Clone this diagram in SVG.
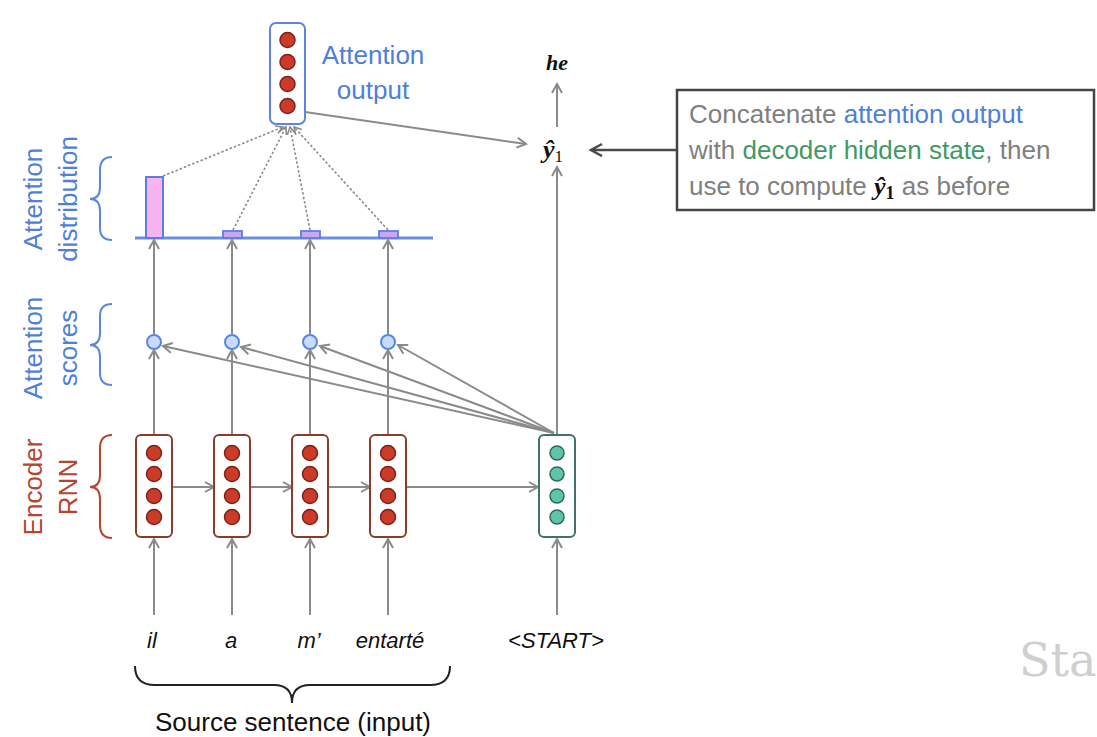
<svg xmlns="http://www.w3.org/2000/svg" width="1097" height="737" viewBox="0 0 1097 737">
<style>
.lbl{font-family:"Liberation Sans","Open Sans",sans-serif;font-size:26px;text-anchor:middle}
.blue{fill:#4f7fd8}
.red{fill:#b5452f}
.conn{stroke:#8a8a8a;stroke-width:2;fill:none}
.dot{stroke:#8a8a8a;stroke-width:1.6;fill:none;stroke-dasharray:2.5 2}
.enc{fill:#fff;stroke:#8c3b2b;stroke-width:2}
.encc{fill:#cc3b2a;stroke:#7a2416;stroke-width:1.5}
.dec{fill:#fff;stroke:#3f7369;stroke-width:2}
.decc{fill:#5fc4a8;stroke:#2d6b5d;stroke-width:1.5}
.sc{fill:#c7dcfb;stroke:#5b86e0;stroke-width:2}
.word{font-family:"Liberation Sans",sans-serif;font-style:italic;font-size:22px;text-anchor:middle;fill:#111}
.brace{fill:none;stroke-width:2}
.box{font-family:"Liberation Sans","Open Sans",sans-serif;font-size:26px;fill:#7f7f7f}
</style>
<defs>
<marker id="ah" markerUnits="userSpaceOnUse" markerWidth="14" markerHeight="14" refX="10" refY="6" orient="auto">
<path d="M1,1 L10,6 L1,11" fill="none" stroke="#8a8a8a" stroke-width="2"/>
</marker>
<marker id="ahs" markerUnits="userSpaceOnUse" markerWidth="12" markerHeight="12" refX="8" refY="5" orient="auto">
<path d="M1,1 L8,5 L1,9" fill="none" stroke="#8a8a8a" stroke-width="1.6"/>
</marker>
<marker id="ahd" markerUnits="userSpaceOnUse" markerWidth="16" markerHeight="16" refX="12" refY="7" orient="auto">
<path d="M1,1 L12,7 L1,13" fill="none" stroke="#4a4a4a" stroke-width="2.5"/>
</marker>
</defs>
<rect width="1097" height="737" fill="#fff"/>

<g id="side-labels">
<text class="lbl blue" transform="translate(42,199) rotate(-90)">Attention</text>
<text class="lbl blue" transform="translate(77,199) rotate(-90)">distribution</text>
<path class="brace" stroke="#5b86e0" d="M112,157 Q100,157 100,170 L100,187 Q100,199 90,199 Q100,199 100,211 L100,228 Q100,240 112,240"/>
<text class="lbl blue" transform="translate(42,348) rotate(-90)">Attention</text>
<text class="lbl blue" transform="translate(77,348) rotate(-90)">scores</text>
<path class="brace" stroke="#5b86e0" d="M112,304 Q100,304 100,316 L100,333 Q100,345 90,345 Q100,345 100,357 L100,373 Q100,385 112,385"/>
<text class="lbl red" transform="translate(42,487) rotate(-90)">Encoder</text>
<text class="lbl red" transform="translate(77,487) rotate(-90)">RNN</text>
<path class="brace" stroke="#b5452f" d="M112,435 Q100,435 100,448 L100,475 Q100,487 90,487 Q100,487 100,499 L100,525 Q100,538 112,538"/>
</g>

<g id="connectors">
<line class="conn" x1="154" y1="615" x2="154" y2="539" marker-end="url(#ah)"/>
<line class="conn" x1="232" y1="615" x2="232" y2="539" marker-end="url(#ah)"/>
<line class="conn" x1="310" y1="615" x2="310" y2="539" marker-end="url(#ah)"/>
<line class="conn" x1="388" y1="615" x2="388" y2="539" marker-end="url(#ah)"/>
<line class="conn" x1="557" y1="615" x2="557" y2="539" marker-end="url(#ah)"/>
<line class="conn" x1="172" y1="487" x2="214" y2="487" marker-end="url(#ah)"/>
<line class="conn" x1="251" y1="487" x2="292" y2="487" marker-end="url(#ah)"/>
<line class="conn" x1="328" y1="487" x2="370" y2="487" marker-end="url(#ah)"/>
<line class="conn" x1="406" y1="487" x2="538" y2="487" marker-end="url(#ah)"/>
<line class="conn" x1="154" y1="435" x2="154" y2="350" marker-end="url(#ah)"/>
<line class="conn" x1="232" y1="435" x2="232" y2="350" marker-end="url(#ah)"/>
<line class="conn" x1="310" y1="435" x2="310" y2="350" marker-end="url(#ah)"/>
<line class="conn" x1="388" y1="435" x2="388" y2="350" marker-end="url(#ah)"/>
<line class="conn" x1="554" y1="433" x2="163" y2="346" marker-end="url(#ah)"/>
<line class="conn" x1="554" y1="433" x2="241" y2="347" marker-end="url(#ah)"/>
<line class="conn" x1="554" y1="433" x2="320" y2="346" marker-end="url(#ah)"/>
<line class="conn" x1="554" y1="433" x2="398" y2="345" marker-end="url(#ah)"/>
<line class="conn" x1="154" y1="334" x2="154" y2="240" marker-end="url(#ah)"/>
<line class="conn" x1="232" y1="334" x2="232" y2="240" marker-end="url(#ah)"/>
<line class="conn" x1="310" y1="334" x2="310" y2="240" marker-end="url(#ah)"/>
<line class="conn" x1="388" y1="334" x2="388" y2="240" marker-end="url(#ah)"/>
<line class="dot" x1="163" y1="176" x2="283" y2="127" marker-end="url(#ahs)"/>
<line class="dot" x1="233" y1="230" x2="286" y2="127" marker-end="url(#ahs)"/>
<line class="dot" x1="310" y1="230" x2="290" y2="127" marker-end="url(#ahs)"/>
<line class="dot" x1="388" y1="230" x2="294" y2="127" marker-end="url(#ahs)"/>
<line class="conn" x1="305" y1="112" x2="526" y2="144" marker-end="url(#ah)"/>
<line class="conn" x1="557" y1="435" x2="557" y2="167" marker-end="url(#ah)"/>
<line class="conn" x1="557" y1="127" x2="557" y2="84" marker-end="url(#ah)"/>
<line x1="677" y1="150" x2="591" y2="150" stroke="#4a4a4a" stroke-width="2.5" marker-end="url(#ahd)"/>
</g>

<g id="dist">
<line x1="135" y1="238" x2="433" y2="238" stroke="#6a8fe3" stroke-width="3"/>
<rect x="146" y="177" width="17" height="61" fill="#f7b4ee" stroke="#5b7fe0" stroke-width="2"/>
<rect x="223" y="231" width="19" height="7" fill="#c9a5f2" stroke="#5b7fe0" stroke-width="1.8"/>
<rect x="301" y="231" width="19" height="7" fill="#c9a5f2" stroke="#5b7fe0" stroke-width="1.8"/>
<rect x="379" y="231" width="19" height="7" fill="#c9a5f2" stroke="#5b7fe0" stroke-width="1.8"/>
</g>

<g id="scores">
<circle class="sc" cx="154" cy="342" r="7"/>
<circle class="sc" cx="232" cy="342" r="7"/>
<circle class="sc" cx="310" cy="342" r="7"/>
<circle class="sc" cx="388" cy="342" r="7"/>
</g>

<g id="attn-output">
<rect x="270" y="23" width="35" height="101" rx="6" fill="#fff" stroke="#5b86e0" stroke-width="2"/>
<circle class="encc" cx="287.5" cy="40" r="7.5"/>
<circle class="encc" cx="287.5" cy="62" r="7.5"/>
<circle class="encc" cx="287.5" cy="84" r="7.5"/>
<circle class="encc" cx="287.5" cy="106" r="7.5"/>
<text class="blue" x="373" y="64" font-family="Liberation Sans, sans-serif" font-size="26" text-anchor="middle">Attention</text>
<text class="blue" x="373" y="99" font-family="Liberation Sans, sans-serif" font-size="26" text-anchor="middle">output</text>
</g>

<g id="enc1">
<rect class="enc" x="136" y="435" width="36" height="102" rx="5"/>
<circle class="encc" cx="154" cy="453" r="7.5"/><circle class="encc" cx="154" cy="474" r="7.5"/><circle class="encc" cx="154" cy="496" r="7.5"/><circle class="encc" cx="154" cy="517" r="7.5"/>
</g>
<g id="enc2">
<rect class="enc" x="214" y="435" width="36" height="102" rx="5"/>
<circle class="encc" cx="232" cy="453" r="7.5"/><circle class="encc" cx="232" cy="474" r="7.5"/><circle class="encc" cx="232" cy="496" r="7.5"/><circle class="encc" cx="232" cy="517" r="7.5"/>
</g>
<g id="enc3">
<rect class="enc" x="292" y="435" width="36" height="102" rx="5"/>
<circle class="encc" cx="310" cy="453" r="7.5"/><circle class="encc" cx="310" cy="474" r="7.5"/><circle class="encc" cx="310" cy="496" r="7.5"/><circle class="encc" cx="310" cy="517" r="7.5"/>
</g>
<g id="enc4">
<rect class="enc" x="370" y="435" width="36" height="102" rx="5"/>
<circle class="encc" cx="388" cy="453" r="7.5"/><circle class="encc" cx="388" cy="474" r="7.5"/><circle class="encc" cx="388" cy="496" r="7.5"/><circle class="encc" cx="388" cy="517" r="7.5"/>
</g>
<g id="dec1">
<rect class="dec" x="539" y="435" width="36" height="102" rx="5"/>
<circle class="decc" cx="557" cy="453" r="7"/><circle class="decc" cx="557" cy="474" r="7"/><circle class="decc" cx="557" cy="496" r="7"/><circle class="decc" cx="557" cy="517" r="7"/>
</g>

<g id="outputs">
<text x="557" y="70" font-family="Liberation Serif, serif" font-style="italic" font-weight="bold" font-size="22" text-anchor="middle" fill="#111">he</text>
<text x="553" y="158" font-family="Liberation Serif, serif" font-style="italic" font-weight="bold" font-size="26" text-anchor="middle" fill="#111">ŷ<tspan font-style="normal" font-weight="normal" font-size="17" dy="4">1</tspan></text>
</g>

<g id="note">
<rect x="677" y="90" width="417" height="120" fill="#fff" stroke="#444" stroke-width="2.5"/>
<text class="box" x="689" y="123">Concatenate <tspan fill="#4f7fd8">attention output</tspan></text>
<text class="box" x="689" y="159">with <tspan fill="#3f9a62">decoder hidden state</tspan>, then</text>
<text class="box" x="689" y="195">use to compute <tspan fill="#111" font-family="Liberation Serif, serif" font-style="italic" font-weight="bold">ŷ</tspan><tspan fill="#111" font-family="Liberation Serif, serif" font-weight="bold" font-size="18" dy="4">1</tspan><tspan dy="-4"> as before</tspan></text>
</g>

<g id="inputs">
<text class="word" x="152" y="648">il</text>
<text class="word" x="231" y="648">a</text>
<text class="word" x="309" y="648">m’</text>
<text class="word" x="390" y="648">entarté</text>
<text class="word" x="556" y="648">&lt;START&gt;</text>
<path class="brace" stroke="#222" stroke-width="2.5" d="M135,666 Q135,685 155,685 L274,685 Q292,685 292,703 Q292,685 310,685 L430,685 Q450,685 450,666"/>
<text x="293" y="731" font-family="Liberation Sans, sans-serif" font-size="26" text-anchor="middle" fill="#111">Source sentence (input)</text>
</g>

<text x="1019" y="676" font-family="DejaVu Serif, serif" font-size="46" fill="#cfcfcf">Sta</text>
</svg>
